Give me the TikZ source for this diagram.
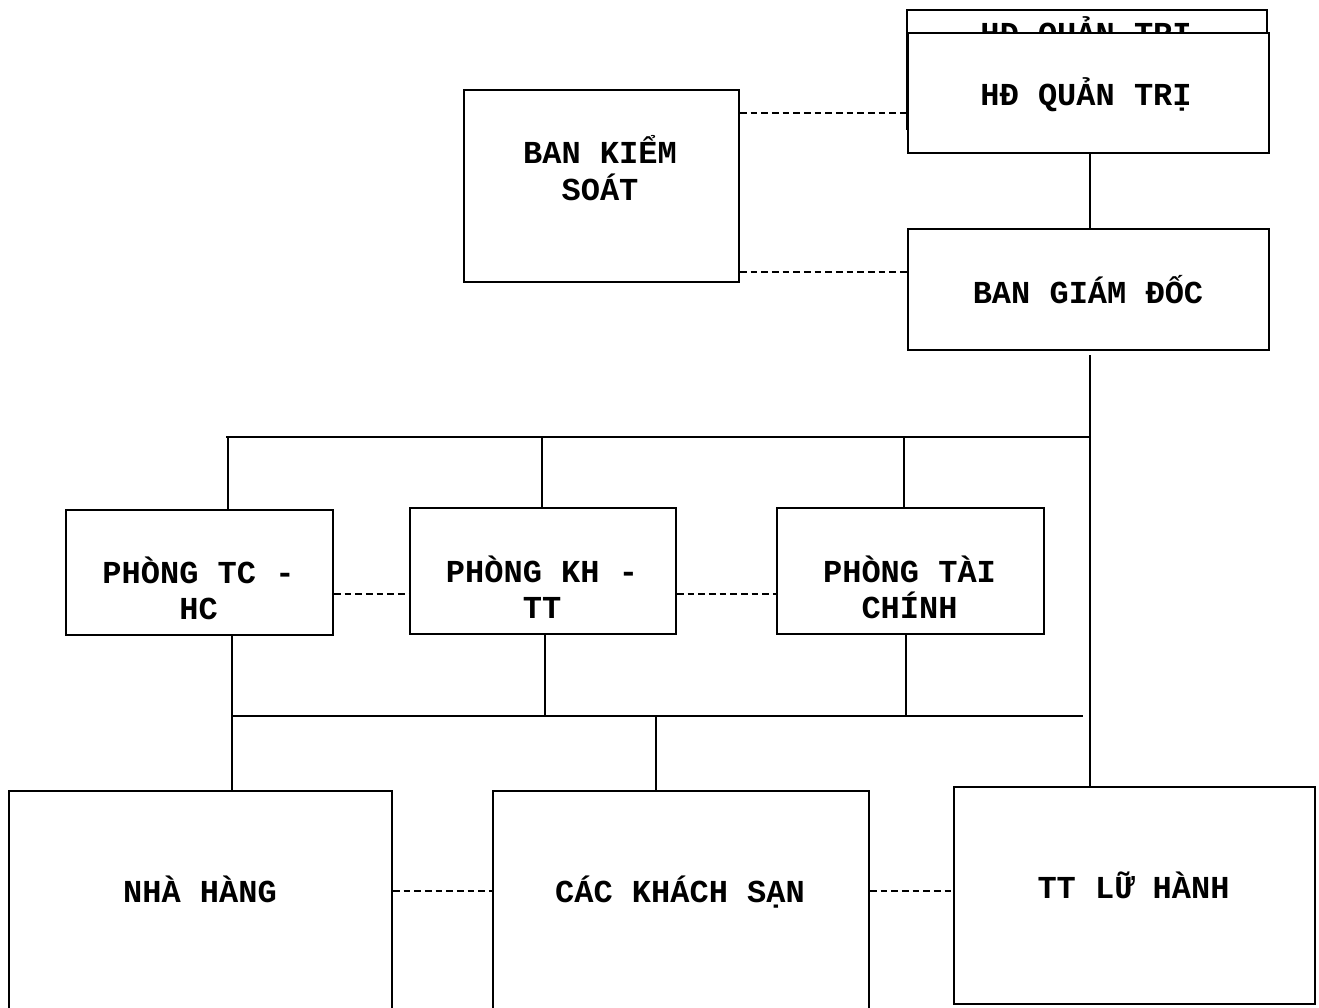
\documentclass[tikz,border=0pt]{standalone}
\usepackage{fontspec}
\newfontfamily\diagfont{Liberation Mono}
\begin{document}
\begin{tikzpicture}[x=0.75pt,y=-0.75pt]
\tikzset{
  box/.style={draw, line width=1.4pt, fill=white, inner sep=0pt, anchor=north west},
  sz/.style 2 args={minimum width=#1*0.75pt, minimum height=#2*0.75pt},
  lbl/.style={anchor=base, inner sep=0pt, font=\diagfont\bfseries\fontsize{24pt}{27pt}\selectfont},
  conn/.style={line width=0.9pt},
  bus/.style={line width=1.4pt},
  dashconn/.style={line width=1pt, dash pattern=on 5pt off 3pt}
}
\useasboundingbox (0,0) rectangle (1319,1007);
\clip (0,0) rectangle (1319,1007);

% helper coordinates
\coordinate (y1) at (0,113);
\coordinate (y2) at (0,272);
\coordinate (y3) at (0,594);
\coordinate (y4) at (0,891);
\coordinate (bt) at (1090,355);
\coordinate (b0) at (226,437);
\coordinate (b1) at (1090,437);
\coordinate (l0) at (232,716);
\coordinate (l1) at (1083,716);
\coordinate (xa) at (228,0);
\coordinate (xb) at (542,0);
\coordinate (xc) at (904,0);
\coordinate (xd) at (545,0);
\coordinate (xe) at (906,0);
\coordinate (xf) at (656,0);

% back (duplicated) board box
\node[box, sz={360}{119}] (hdback) at (906,9) {};
\node[lbl] (hdbackt) at (1086,44) {HĐ QUẢN TRỊ};
% front board box
\node[box, sz={361}{120}] (hd) at (907,32) {};
\node[lbl] (hdt) at (1086,105) {HĐ QUẢN TRỊ};

\node[box, sz={275}{192}] (bks) at (463,89) {};
\node[lbl] (bkst1) at (600,163) {BAN KIỂM};
\node[lbl] (bkst2) at (600,200) {SOÁT};

\node[box, sz={361}{121}] (bgd) at (907,228) {};
\node[lbl] (bgdt) at (1088,303) {BAN GIÁM ĐỐC};

\node[box, sz={267}{125}] (tchc) at (65,509) {};
\node[lbl] (tchct1) at (198.5,583) {PHÒNG TC -};
\node[lbl] (tchct2) at (198.5,619) {HC};

\node[box, sz={266}{126}] (khtt) at (409,507) {};
\node[lbl] (khttt1) at (542,582) {PHÒNG KH -};
\node[lbl] (khttt2) at (542,618) {TT};

\node[box, sz={267}{126}] (tcf) at (776,507) {};
\node[lbl] (tcft1) at (909.5,582) {PHÒNG TÀI};
\node[lbl] (tcft2) at (909.5,618) {CHÍNH};

\node[box, sz={383}{240}] (nha) at (8,790) {};
\node[lbl] (nhat) at (200,902) {NHÀ HÀNG};

\node[box, sz={376}{240}] (ks) at (492,790) {};
\node[lbl] (kst) at (680,902) {CÁC KHÁCH SẠN};

\node[box, sz={361}{217}] (lh) at (953,786) {};
\node[lbl] (lht) at (1133.5,898) {TT LỮ HÀNH};

% solid connectors
\draw[conn] (hd.south -| b1) -- (bgd.north -| b1);
\draw[conn] (bt) -- (lh.north -| bt);
\draw[conn] (b0) -- (b1);
\draw[conn] (b0 -| xa) -- (tchc.north -| xa);
\draw[conn] (b0 -| xb) -- (khtt.north -| xb);
\draw[conn] (b0 -| xc) -- (tcf.north -| xc);
\draw[bus] (l0) -- (l1);
\draw[conn] (tchc.south -| l0) -- (nha.north -| l0);
\draw[conn] (khtt.south -| xd) -- (l0 -| xd);
\draw[conn] (tcf.south -| xe) -- (l0 -| xe);
\draw[conn] (l0 -| xf) -- (ks.north -| xf);

% dashed connectors
\draw[dashconn] (bks.east |- y1) -- (hdback.west |- y1);
\draw[dashconn] (bks.east |- y2) -- (bgd.west |- y2);
\draw[dashconn] (tchc.east |- y3) -- (khtt.west |- y3);
\draw[dashconn] (khtt.east |- y3) -- (tcf.west |- y3);
\draw[dashconn] (nha.east |- y4) -- (ks.west |- y4);
\draw[dashconn] (ks.east |- y4) -- (lh.west |- y4);
\end{tikzpicture}
\end{document}
